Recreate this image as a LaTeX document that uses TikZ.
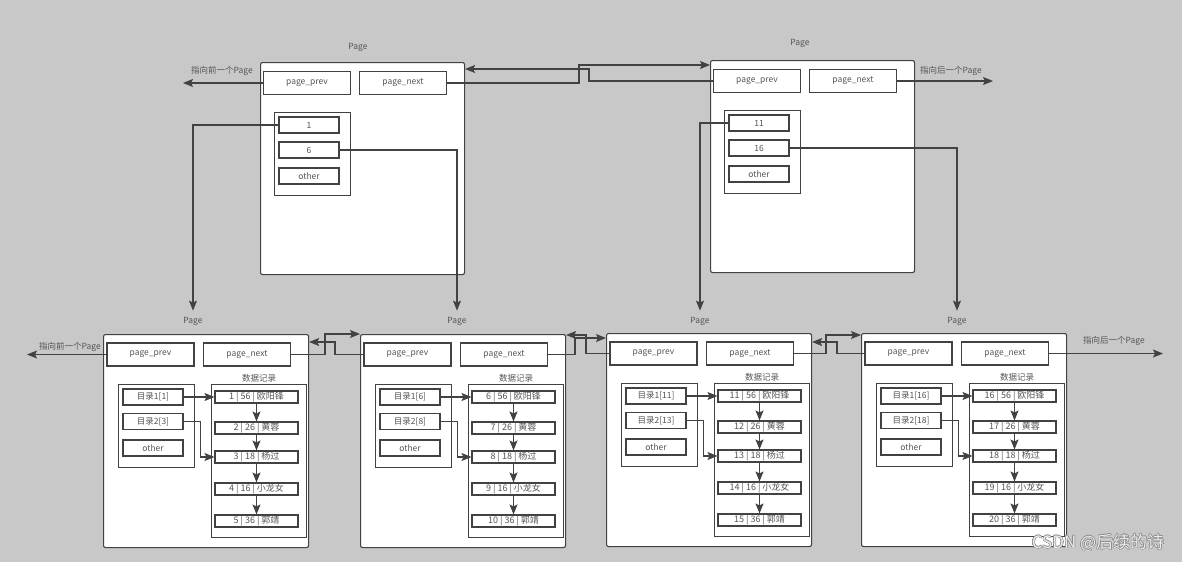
\documentclass[tikz,border=0pt]{standalone}
\usepackage{fontspec}
\setmainfont{Noto Sans CJK SC}
\usepackage{contour}
\usetikzlibrary{arrows.meta,calc}

\definecolor{bg}{HTML}{C8C8C8}
\definecolor{ink}{HTML}{424242}
\definecolor{txt}{HTML}{555555}
\contourlength{0.5pt}

\tikzset{
  pagebox/.style={draw=ink, line width=1.1pt, fill=white, rounded corners=2pt, anchor=north west, inner sep=0},
  frame/.style={draw=ink, line width=1.1pt, fill=white, anchor=north west, inner sep=0},
  field/.style={draw=ink, line width=1.1pt, fill=white, minimum width=87pt, minimum height=23pt, inner sep=0, text=txt, font=\fontsize{8.5}{9}\selectfont},
  entry/.style={field, minimum width=60pt, minimum height=16pt},
  rec/.style={field, minimum width=83pt, minimum height=12pt, font=\fontsize{9}{10}\selectfont},
  lbl/.style={text=txt, inner sep=1pt, font=\fontsize{8.5}{9}\selectfont},
  link/.style={draw=ink, line width=1.1pt, -{Stealth[length=10pt,width=8pt,inset=2pt]}}
}

\begin{document}
\begin{tikzpicture}[x=1pt,y=-1pt]
        % background
        \path[fill=bg](0,0)rectangle(1182,562);
        % top pages
        \foreach \j/\px/\py/\lx/\ly/\ea/\eb in {1/260/62/358/47/1/6, 2/710/60/800/43/11/16}
        {
            \node[pagebox, minimum width=204pt, minimum height=212pt](tp\j)at(\px,\py){};
            \node[lbl](tlab\j)at(\lx,\ly){Page};
            \node[field](tprev\j)at(\px+47,\py+21){page\_prev};
            \node[field](tnext\j)at(\px+143,\py+21){page\_next};
            \node[frame, minimum width=76pt, minimum height=83pt]at(\px+14,\py+50){};
            \node[entry](ta\j)at(\px+49,\py+63){\ea};
            \node[entry](tb\j)at(\px+49,\py+88){\eb};
            \node[entry](tc\j)at(\px+49,\py+114){other};
        }
        % bottom pages
        \foreach \i/\px/\py/\lx in {1/103/334/193, 2/360/334/457, 3/606/333/700, 4/861/333/957}
        {
            \pgfmathtruncatemacro{\ka}{5*\i-4}
            \pgfmathtruncatemacro{\kc}{5*\i-2}
            \node[pagebox, minimum width=205pt, minimum height=213pt](p\i)at(\px,\py){};
            \node[lbl](lab\i)at(\lx,321){Page};
            \node[field](prev\i)at(\px+47.5,\py+20.5){page\_prev};
            \node[field](next\i)at(\px+144,\py+20.5){page\_next};
            \node[lbl]at(\px+156,\py+44){数据记录};
            %目录
            \node[frame, minimum width=76pt, minimum height=83pt]at(\px+15,\py+50){};
            \node[entry](da\i)at(\px+50,\py+63){目录1[\ka]};
            \node[entry](db\i)at(\px+50,\py+87.5){目录2[\kc]};
            \node[entry](dc\i)at(\px+50,\py+114){other};
            %数据记录
            \node[frame, minimum width=95pt, minimum height=153pt]at(\px+108,\py+50){};
            \foreach \r/\age/\name/\ry [count=\k] in {0/56/欧阳锋/63, 1/26/黄蓉/94, 2/18/杨过/123, 3/16/小龙女/155, 4/36/郭靖/187}
            {
                \pgfmathtruncatemacro{\id}{\ka+\r}
                \node[rec](rec\i\k)at(\px+153.5,\py+\ry){\id\ |\ \age\ |\ \name};
            }
            \foreach \k [evaluate=\k as \kn using int(\k+1)] in {1,...,4}
            {
                \path[link](rec\i\k.south)--(rec\i\kn.north);
            }
            \path[link](da\i.east)--(rec\i1.west);
            \path[link](db\i.east)--++(17,0)|-(rec\i3.west);
        }
        % prev / next between top pages
        \coordinate(tfa)at(579,65);
        \coordinate(tra)at(589,69);
        \path[link](tnext1.east)-|(tfa)--(tfa-|tp2.west);
        \path[link](tprev2.west)-|(tra)--(tra-|tp1.east);
        % prev / next between bottom pages
        \foreach \i/\j/\fx/\fy/\rx/\ry in {1/2/325/334/335/342, 2/3/575/338/586/335, 3/4/826/335/837/342}
        {
            \coordinate(fa\i)at(\fx,\fy);
            \coordinate(ra\i)at(\rx,\ry);
            \path[link](next\i.east)-|(fa\i)--(fa\i-|p\j.west);
            \path[link](prev\j.west)-|(ra\i)--(ra\i-|p\i.east);
        }
        % outer pointers
        \coordinate(o1)at(183,0);
        \coordinate(o2)at(993,0);
        \coordinate(o3)at(27,0);
        \coordinate(o4)at(1163,0);
        \path[link](tprev1.west)--(tprev1.west-|o1);
        \path[link](tnext2.east)--(tnext2.east-|o2);
        \path[link](prev1.west)--(prev1.west-|o3);
        \path[link](next4.east)--(next4.east-|o4);
        \node[lbl]at(222,71){指向前一个Page};
        \node[lbl]at(951,71){指向后一个Page};
        \node[lbl]at(70,347){指向前一个Page};
        \node[lbl]at(1114,341){指向后一个Page};
        % index -> leaf pages
        \path[link](ta1.west)-|([yshift=5pt]lab1.north);
        \path[link](tb1.east)-|([yshift=5pt]lab2.north);
        \path[link](ta2.west)-|([yshift=5pt]lab3.north);
        \path[link](tb2.east)-|([yshift=5pt]lab4.north);
        % watermark
        \node[text=white!92!black, font=\fontsize{17}{19}\selectfont]at(1098,543){\contour{black!45}{CSDN @后续的诗}};
    \end{tikzpicture}
\end{document}
